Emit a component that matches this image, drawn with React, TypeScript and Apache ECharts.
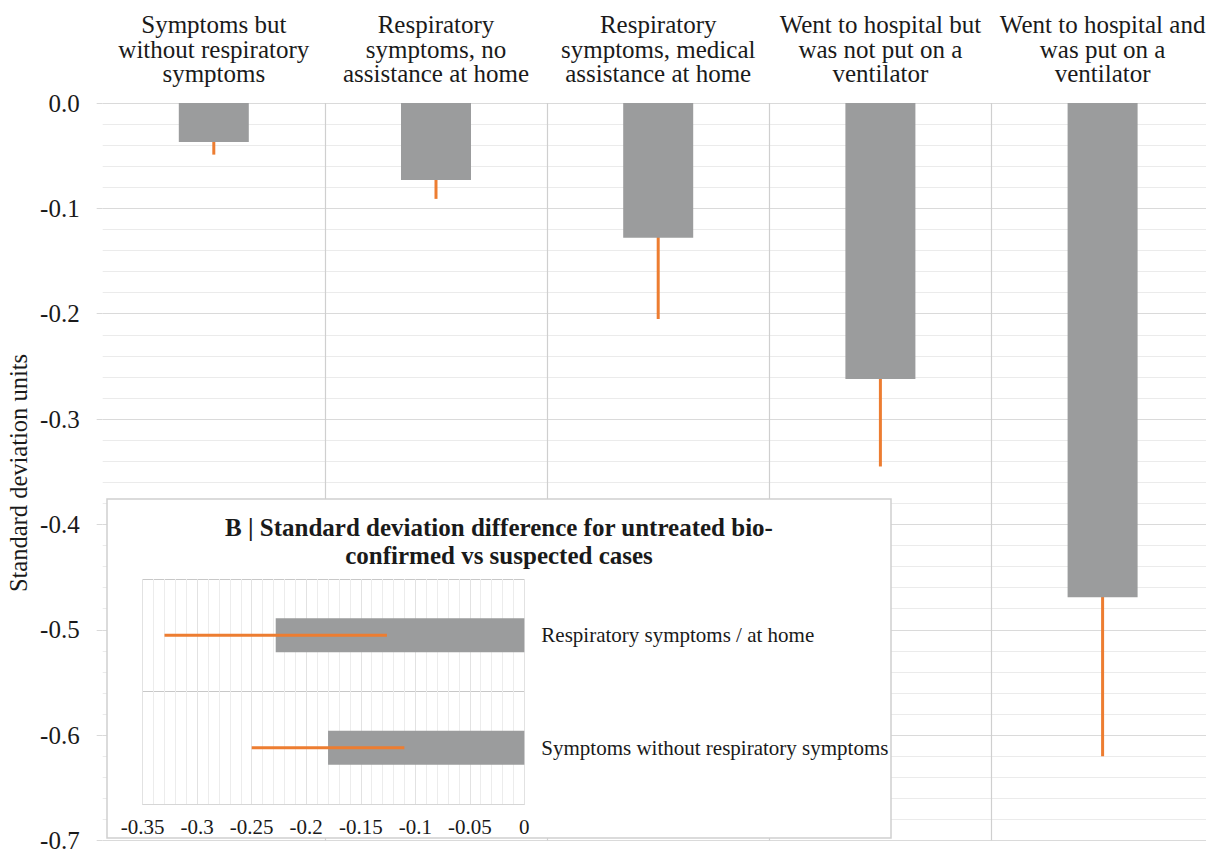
import React, { useEffect, useRef } from "react";
import * as echarts from "echarts";

const categories = [
  "Symptoms but\nwithout respiratory\nsymptoms",
  "Respiratory\nsymptoms, no\nassistance at home",
  "Respiratory\nsymptoms, medical\nassistance at home",
  "Went to hospital but\nwas not put on a\nventilator",
  "Went to hospital and\nwas put on a\nventilator",
];
const mainValues = [-0.037, -0.073, -0.128, -0.262, -0.469];
const mainLow = [-0.049, -0.091, -0.205, -0.345, -0.62];
const mainHigh = [-0.026, -0.054, -0.052, -0.18, -0.317];

const insetCategories = ["Symptoms without respiratory symptoms", "Respiratory symptoms / at home"];
const insetValues = [-0.18, -0.228];
const insetLow = [-0.25, -0.33];
const insetHigh = [-0.11, -0.126];

const insetTitle = "B | Standard deviation difference for untreated bio-\nconfirmed vs suspected cases";
const yAxisName = "Standard deviation units";

const FONT = "Liberation Serif";
const TEXT = "#1a1a1a";
const BAR = "#9b9c9d";
const ORANGE = "#ed7d31";

const wrapRich = (s: string) =>
  String(s)
    .split("\n")
    .map((l) => `{s|${l}}`)
    .join("\n");

export default function App() {
  const ref = useRef<HTMLDivElement>(null);
  useEffect(() => {
    if (!ref.current) return;
    const chart = echarts.init(ref.current, null, { renderer: "svg" });
    chart.setOption({
      animation: false,
      backgroundColor: "#ffffff",
      textStyle: { fontFamily: FONT },
      grid: [
        { left: 102.7, top: 103, width: 1111, height: 743 },
        { left: 142.7, top: 579, width: 381.6, height: 225 },
      ],
      graphic: [
        {
          type: "rect",
          z: 10,
          shape: { x: 107, y: 499, width: 784, height: 339 },
          style: { fill: "#ffffff", stroke: "#d0d0d0", lineWidth: 1.5 },
        },
        {
          type: "text",
          z: 11,
          x: 499,
          y: 541,
          style: {
            text: insetTitle,
            fontFamily: FONT,
            fontSize: 25,
            fontWeight: "bold",
            fill: TEXT,
            align: "center",
            verticalAlign: "middle",
            lineHeight: 28,
          },
        },
        {
          type: "text",
          z: 1,
          x: 18,
          y: 473,
          rotation: Math.PI / 2,
          style: {
            text: yAxisName,
            fontFamily: FONT,
            fontSize: 24.5,
            fill: TEXT,
            align: "center",
            verticalAlign: "middle",
          },
        },
      ],
      xAxis: [
        {
          type: "category",
          gridIndex: 0,
          position: "top",
          data: categories,
          axisLine: { show: false },
          axisTick: { show: false },
          axisLabel: {
            interval: 0,
            color: TEXT,
            margin: 17,
            formatter: (v: string) => wrapRich(v),
            rich: { s: { fontFamily: FONT, fontSize: 25, lineHeight: 24.5, color: TEXT, align: "center" } },
          },
          splitLine: {
            show: true,
            interval: (index: number) => index > 0,
            lineStyle: { color: "#cfcfcf", width: 1.2 },
          },
        },
        {
          type: "value",
          gridIndex: 1,
          min: -0.35,
          max: 0,
          interval: 0.05,
          z: 11,
          axisLine: { show: true, lineStyle: { color: "#d6d6d6" } },
          axisTick: { show: false },
          axisLabel: {
            color: TEXT,
            margin: 12,
            formatter: (v: number) => wrapRich(String(v)),
            rich: { s: { fontFamily: FONT, fontSize: 21, color: TEXT } },
          },
          splitLine: { show: true, lineStyle: { color: "#e2e2e2" } },
          minorTick: { show: false, splitNumber: 5 },
          minorSplitLine: { show: true, lineStyle: { color: "#ececec" } },
        },
      ],
      yAxis: [
        {
          type: "value",
          gridIndex: 0,
          min: -0.7,
          max: 0,
          interval: 0.1,
          axisLine: { show: false },
          axisTick: { show: true, length: 6, lineStyle: { color: "#d9d9d9" } },
          axisLabel: {
            color: TEXT,
            margin: 23,
            formatter: (v: number) => wrapRich(v.toFixed(1)),
            rich: { s: { fontFamily: FONT, fontSize: 25, color: TEXT } },
          },
          splitLine: { show: true, lineStyle: { color: "#dadada" } },
          minorTick: { show: false, splitNumber: 5 },
          minorSplitLine: { show: true, lineStyle: { color: "#ebebeb" } },
        },
        {
          type: "category",
          gridIndex: 1,
          position: "right",
          data: insetCategories,
          z: 11,
          axisLine: { show: false },
          axisTick: { show: false },
          axisLabel: { fontFamily: FONT, fontSize: 21, color: TEXT, margin: 17, align: "left" },
          splitLine: {
            show: true,
            lineStyle: { color: "#c8c8c8" },
          },
        },
      ],
      series: [
        {
          type: "bar",
          xAxisIndex: 0,
          yAxisIndex: 0,
          data: mainValues,
          barWidth: 70,
          itemStyle: { color: BAR },
        },
        {
          type: "custom",
          xAxisIndex: 0,
          yAxisIndex: 0,
          data: categories.map((_, i) => [i, mainLow[i], mainHigh[i]]),
          encode: { x: 0, y: [1, 2] },
          renderItem: (params: any, api: any) => {
            const i = api.value(0);
            const p1 = api.coord([i, api.value(1)]);
            const p2 = api.coord([i, api.value(2)]);
            return {
              type: "line",
              shape: { x1: p1[0], y1: p1[1], x2: p2[0], y2: p2[1] },
              style: { stroke: ORANGE, lineWidth: 3 },
            };
          },
        },
        {
          type: "bar",
          xAxisIndex: 1,
          yAxisIndex: 1,
          data: insetValues,
          barWidth: 34,
          z: 12,
          itemStyle: { color: BAR },
        },
        {
          type: "custom",
          xAxisIndex: 1,
          yAxisIndex: 1,
          z: 13,
          data: insetCategories.map((_, i) => [insetLow[i], insetHigh[i], i]),
          encode: { x: [0, 1], y: 2 },
          renderItem: (params: any, api: any) => {
            const i = api.value(2);
            const p1 = api.coord([api.value(0), i]);
            const p2 = api.coord([api.value(1), i]);
            return {
              type: "line",
              shape: { x1: p1[0], y1: p1[1], x2: p2[0], y2: p2[1] },
              style: { stroke: ORANGE, lineWidth: 3 },
            };
          },
        },
      ],
    });
    return () => chart.dispose();
  }, []);
  return (
    <div
      ref={ref}
      style={{ position: "fixed", left: 0, top: 0, width: 1220, height: 853, background: "#fff" }}
    />
  );
}
